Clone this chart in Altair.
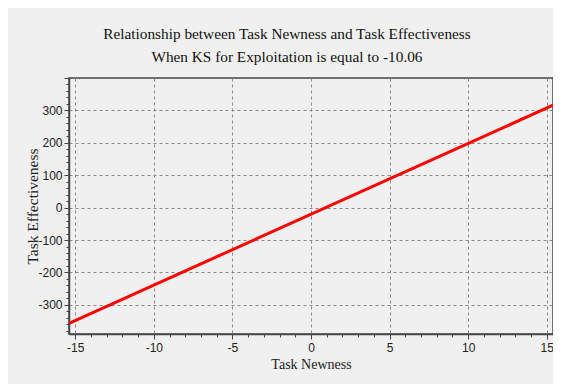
import altair as alt
import pandas as pd

# Data
task_newness = [-15.4, 15.4]
task_effectiveness = [-357, 316]

x_ticks = list(range(-15, 16))           # major every 5, minor every 1
y_ticks = list(range(-380, 401, 20))     # major every 100, minor every 20

title_lines = ["Relationship between Task Newness and Task Effectiveness",
               "When KS for Exploitation is equal to -10.06"]

df = pd.DataFrame({"x": task_newness, "y": task_effectiveness})

BG = "#f0f0f0"

x_axis = alt.Axis(
    values=x_ticks,
    title="Task Newness",
    titleFont="Liberation Serif", titleFontSize=14, titleFontWeight="normal",
    titleColor="#222", titlePadding=4,
    labelFont="Liberation Sans", labelFontSize=12, labelColor="#222",
    labelExpr="datum.value % 5 === 0 ? '' + datum.value : ''",
    labelPadding=3,
    tickColor="#444",
    tickSize={"condition": {"test": "datum.value % 5 === 0", "value": 5}, "value": 3},
    grid=True, gridColor="#888", gridDash=[3, 3], gridWidth=1,
    gridOpacity={"condition": {"test": "datum.value % 5 === 0", "value": 1}, "value": 0},
    domainColor="#444", domainWidth=1.5,
)

y_axis = alt.Axis(
    values=y_ticks,
    title="Task Effectiveness",
    titleFont="Liberation Serif", titleFontSize=15.5, titleFontWeight="normal",
    titleColor="#222", titlePadding=-3,
    labelFont="Liberation Sans", labelFontSize=12, labelColor="#222",
    labelExpr="datum.value % 100 === 0 && abs(datum.value) <= 300 ? '' + datum.value : ''",
    labelPadding=2,
    tickColor="#444",
    tickSize={"condition": {"test": "datum.value % 100 === 0", "value": 5}, "value": 3},
    grid=True, gridColor="#888", gridDash=[3, 3], gridWidth=1,
    gridOpacity={"condition": {"test": "datum.value % 100 === 0 && abs(datum.value) <= 300", "value": 1}, "value": 0},
    domainColor="#444", domainWidth=1.5,
)

chart = alt.Chart(df).mark_line(color="#ff0000", strokeWidth=3, clip=True).encode(
    x=alt.X("x:Q", scale=alt.Scale(domain=[-15.4, 15.4], nice=False, zero=False), axis=x_axis),
    y=alt.Y("y:Q", scale=alt.Scale(domain=[-390, 400], nice=False, zero=False), axis=y_axis),
).properties(
    width=484,
    height=256,
    title=alt.TitleParams(
        text=title_lines,
        font="Liberation Serif", fontSize=15.3, fontWeight="normal", color="#111",
        anchor="middle", dx=-24, offset=12, lineHeight=23,
    ),
    background=BG,
    padding={"left": 61, "top": 70, "right": 0, "bottom": 50},
    autosize=alt.AutoSizeParams(type="none"),
).configure_view(
    stroke="#444", strokeWidth=1.5, fill=BG
)

chart.save("out.html", embed_options={"renderer": "svg", "actions": False})
